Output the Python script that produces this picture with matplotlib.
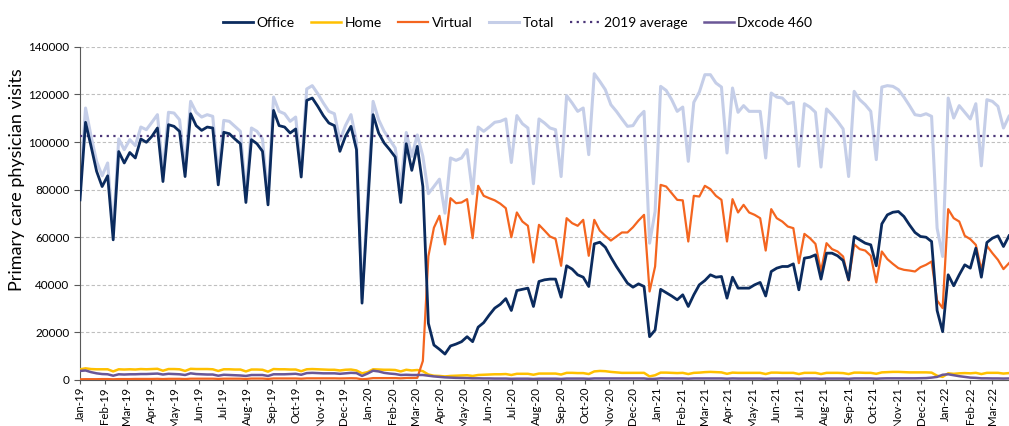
import numpy as np
import pandas as pd
import matplotlib
matplotlib.use("Agg")
import matplotlib.pyplot as plt
import matplotlib.dates as mdates

plt.rcParams['font.family'] = ['Lato', 'DejaVu Sans']

# weekly data, first week starts 2019-01-01
weeks = pd.date_range("2019-01-01", periods=169, freq="7D")

office = [75700,108300,98200,87700,81300,85800,58900,96000,91200,95600,
          93300,101300,99900,102400,105900,83400,107300,106600,104500,85500,
          111900,106900,104900,106300,105900,82000,104100,103500,101300,99300,
          74600,101000,99300,96100,73600,113300,106900,106300,103800,105500,
          85300,117500,118500,115000,111100,108000,106900,96100,102400,106600,
          96800,32300,72000,111500,103800,99600,96800,93700,74600,99300,
          88100,98200,81300,23800,14700,12900,10900,14300,15100,16100,
          18200,16100,22200,24100,27300,30200,31800,34200,29200,37600,
          38100,38600,30900,41400,42100,42400,42400,34800,48000,46600,
          44200,43200,39300,57200,57900,55800,51600,47700,44200,40700,
          39000,40400,39300,18200,21000,38100,36700,35300,33700,35800,
          30900,35800,40000,41800,44200,43200,43500,34400,43200,38600,
          38600,38600,40000,41000,35300,45600,47000,47700,47700,48800,
          37900,51200,51600,52600,42400,53300,53300,52200,50200,42100,
          60300,58900,57500,56800,48000,65600,69400,70500,70800,68700,
          65200,62000,60300,60000,58200,29200,20300,44200,39600,44200,
          48400,47000,55400,43200,57800,59600,60600,56100,60600]

home = [4500,4900,4600,4500,4500,4500,3600,4500,4400,4500,
        4400,4600,4500,4600,4700,3900,4600,4600,4500,3800,
        4700,4600,4600,4600,4500,3800,4500,4500,4400,4400,
        3600,4400,4400,4300,3500,4600,4500,4500,4400,4400,
        3700,4500,4600,4500,4400,4300,4300,4000,4300,4400,
        4000,2800,3300,4500,4400,4300,4300,4200,3600,4300,
        4000,4200,3700,2300,1800,1700,1500,1700,1800,1900,
        2000,1700,2100,2200,2300,2400,2400,2500,2100,2600,
        2600,2600,2200,2700,2700,2700,2700,2300,3000,3000,
        2900,2900,2500,3600,3800,3700,3400,3200,3000,3000,
        3000,3000,3000,1500,2000,3100,3100,3000,2900,3000,
        2500,3000,3100,3300,3400,3300,3200,2600,3100,3000,
        3000,3000,3000,3000,2500,3100,3100,3000,3000,3000,
        2500,3000,3000,3000,2500,3000,3000,3000,2900,2500,
        3100,3100,3000,3000,2600,3200,3300,3400,3400,3300,
        3200,3200,3200,3200,3100,1800,1300,2800,2600,2800,
        2900,2800,3000,2500,3000,3000,3000,2700,2900]

virtual = [300,350,350,350,400,400,300,400,400,400,
           450,450,450,450,500,400,500,500,500,400,
           550,550,550,550,550,450,550,550,550,550,
           450,600,600,600,450,650,650,650,650,650,
           550,700,700,700,700,700,700,650,700,750,
           700,300,500,800,800,800,800,800,700,850,
           850,900,8000,52000,64000,69000,57000,76400,74300,74600,
           76000,59600,81600,77400,76400,75500,74100,72200,60000,70400,
           66600,64800,49400,65200,62800,60300,59300,48000,68000,65900,
           64800,67300,52200,67300,62800,60600,58600,60300,62000,62000,
           64200,67000,69400,37200,47700,82000,81300,78500,75700,75500,
           58200,77400,77100,81600,80200,77400,75700,58200,76000,70400,
           73600,70400,69400,68000,54400,71800,68000,66600,64500,63800,
           49100,61400,59600,57200,45600,57500,55000,54000,51900,41800,
           57000,55000,54400,52200,41000,54000,50800,48800,47000,46300,
           46000,45600,47400,48400,49800,33400,30200,71800,68000,66600,
           60600,59200,56800,46300,56400,53300,50500,46600,49100]

total = [81000,114300,102400,91900,85800,91200,62400,101300,96800,101000,
         98500,106300,105200,108300,111500,87200,112500,112200,109400,89100,
         117100,112500,110500,111500,110800,85500,109100,108700,106600,104500,
         77800,105900,104500,101300,76400,118900,112900,111900,108700,110500,
         87700,122300,123700,120300,116400,112900,111900,100700,106900,111500,
         100300,34400,76000,117100,109400,104500,101000,97500,81300,104000,
         94000,103000,94000,78300,81300,84400,70100,93300,92300,93300,
         96800,78300,106300,104500,106300,108300,108700,109700,91400,111100,
         107700,105900,82500,109700,108000,105900,105200,85500,119500,116400,
         112900,114300,94700,128700,125500,122000,115700,112900,109700,106600,
         106900,110500,112900,57500,70800,123400,121700,117800,112900,114700,
         91900,116700,121000,128300,128300,124800,123100,95400,122700,112500,
         115300,112900,112900,112900,93300,120600,118900,118500,116100,116700,
         89800,116100,114700,112500,89500,113900,111500,108700,105500,85500,
         121300,117800,115700,112900,92600,123100,123700,123400,122000,118900,
         115300,111500,111100,111900,110800,63800,51900,118500,110100,115300,
         112500,109700,116100,90000,117800,117100,115000,105900,110800]

dxcode = [3800,4000,3300,2800,2500,2400,1800,2400,2300,2400,
          2400,2500,2500,2600,2700,2300,2600,2500,2400,2100,
          2800,2500,2400,2300,2300,1800,2200,2100,2000,1900,
          1700,2100,2100,2100,1700,2400,2400,2400,2500,2600,
          2200,2900,3000,2900,2800,2800,2800,2600,2800,3000,
          2900,1700,2700,3900,3600,3000,2700,2500,2100,2200,
          2100,2100,2100,1800,1500,1300,1100,1000,900,850,
          800,700,700,650,650,600,600,600,500,550,
          550,550,450,550,550,550,550,450,600,600,
          600,600,500,650,650,650,650,650,650,650,
          650,650,650,400,500,700,650,650,650,650,
          550,650,650,650,650,650,650,550,650,600,
          600,600,600,600,500,600,600,600,600,600,
          500,600,600,600,500,600,600,600,600,500,
          650,650,650,650,550,650,700,700,700,700,
          700,700,750,800,1000,1300,2200,2400,2000,1600,
          1300,1000,900,700,700,650,650,600,650]

avg_2019 = 102400

fig = plt.figure(figsize=(10.09, 4.26), dpi=100)
ax = fig.add_axes([0.0793, 0.108, 0.9207, 0.782])

# total goes behind everything
ax.plot(weeks, total, color="#c5cee8", lw=2.2, label="Total", zorder=2)
ax.plot(weeks, home, color="#ffc000", lw=1.8, label="Home", zorder=3)
ax.plot(weeks, virtual, color="#f4651f", lw=1.6, label="Virtual", zorder=3)
ax.plot(weeks, dxcode, color="#6a5797", lw=1.8, label="Dxcode 460", zorder=3)
ax.plot(weeks, office, color="#0b2b5e", lw=2.0, label="Office", zorder=4)
ax.axhline(avg_2019, color="#4a3577", lw=1.6, ls=(0, (1, 2)), label="2019 average", zorder=3)

ax.set_ylim(0, 140000)
ax.set_yticks(np.arange(0, 140001, 20000))
ax.set_xlim(weeks[0], weeks[-1])
ax.xaxis.set_major_locator(mdates.MonthLocator())
ax.xaxis.set_major_formatter(mdates.DateFormatter("%b-%y"))
plt.setp(ax.get_xticklabels(), rotation=90)
ax.tick_params(axis="x", labelsize=8.3, length=3, pad=2, color="#595959")
ax.tick_params(axis="y", labelsize=8.5, length=4, color="#595959")

ax.yaxis.grid(True, color="#bfbfbf", ls=(0, (3, 2)), lw=0.8)
ax.set_axisbelow(True)
for s in ["top", "right"]:
    ax.spines[s].set_visible(False)
ax.spines["left"].set_color("#595959")
ax.spines["bottom"].set_color("#595959")

ax.set_ylabel("Primary care physician visits", fontsize=13)
ax.yaxis.set_label_coords(-0.059, 0.6)

# legend in the same order as the reference
h, l = ax.get_legend_handles_labels()
order = ["Office", "Home", "Virtual", "Total", "2019 average", "Dxcode 460"]
hs = [h[l.index(o)] for o in order]
fig.legend(hs, order, loc="upper center", bbox_to_anchor=(0.513, 0.99), ncol=6,
           frameon=False, fontsize=10, handlelength=2.15, columnspacing=1.2, handletextpad=0.25)

fig.savefig("out.png", dpi=100)
